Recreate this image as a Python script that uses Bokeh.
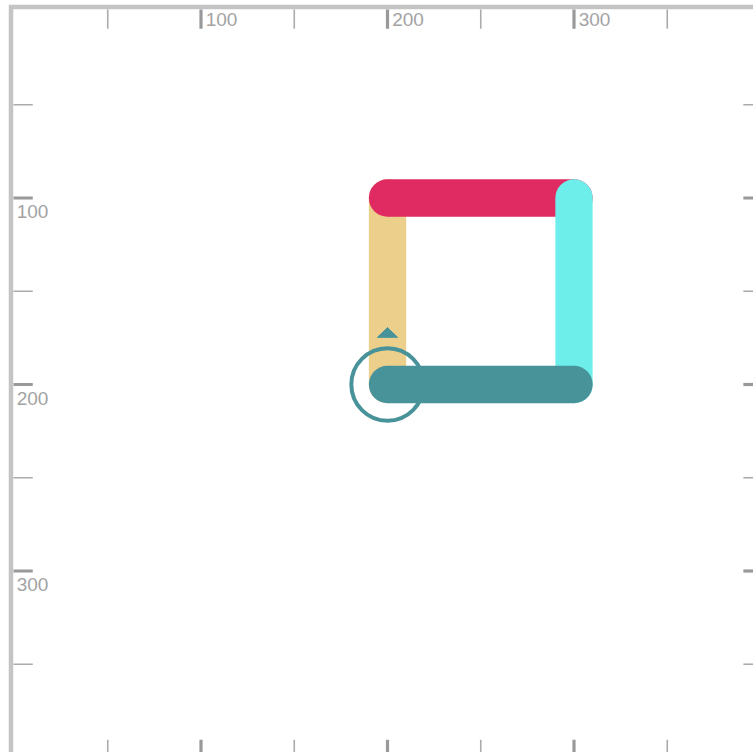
from bokeh.plotting import figure
from bokeh.models import Range1d, ColumnDataSource
from bokeh.core.properties import value
from bokeh.embed import file_html
from bokeh.resources import INLINE

# ---- data ----
# turtle path (canvas units, y grows downward)
path_x = [200, 200, 300, 300, 200]
path_y = [200, 100, 100, 200, 200]
path_colors = ["#EDCF8C", "#E02A62", "#6EEEEA", "#48939A"]

# turtle state
turtle_x = 200
turtle_y = 200
turtle_color = "#48939A"

# ruler ticks
major_ticks = [100, 200, 300]
minor_ticks = [50, 150, 250, 350]
tick_labels = ["100", "200", "300"]

SCALE = 1.865          # px per canvas unit
W, H = 745, 748
BL, BT = 5, 5           # gray border widths
fw, fh = W - BL, H - BT
x0 = -1.0 / SCALE
y0 = -2.0 / SCALE

p = figure(width=W, height=H, output_backend="svg", toolbar_location=None,
           x_range=Range1d(x0, x0 + fw / SCALE),
           y_range=Range1d(y0 + fh / SCALE, y0),
           min_border_left=BL, min_border_top=BT, min_border_right=0, min_border_bottom=0,
           margin=(4, 0, 0, 8))
p.axis.visible = False
p.grid.visible = False
p.outline_line_color = None
p.border_fill_color = "#C4C4C4"
p.background_fill_color = "white"

MAJ_C, MIN_C = "#999999", "#ABABAB"
TXT_C = "#A3A3A3"
FONT = value("Liberation Sans")
FS = "19px"

# rulers on all four sides
for ticks, lw, col in ((major_ticks, 3.2, MAJ_C), (minor_ticks, 1.6, MIN_C)):
    n = len(ticks)
    p.segment(x0=ticks, y0=[-1.5] * n, x1=ticks, y1=[9.2] * n, line_width=lw, line_color=col)
    p.segment(x0=ticks, y0=[390.5] * n, x1=ticks, y1=[402] * n, line_width=lw, line_color=col)
    p.segment(x0=[-1.5] * n, y0=ticks, x1=[9.8] * n, y1=ticks, line_width=lw, line_color=col)
    p.segment(x0=[390.8] * n, y0=ticks, x1=[402] * n, y1=ticks, line_width=lw, line_color=col)

p.text(x=[t + 2.5 for t in major_ticks], y=[0.6] * 3, text=tick_labels,
       text_font=FONT, text_font_size=FS, text_color=TXT_C,
       text_align="left", text_baseline="top")
p.text(x=[1.2] * 3, y=[t + 4.0 for t in major_ticks], text=tick_labels,
       text_font=FONT, text_font_size=FS, text_color=TXT_C,
       text_align="left", text_baseline="top")

# path
src = ColumnDataSource(dict(x0=path_x[:-1], y0=path_y[:-1], x1=path_x[1:], y1=path_y[1:],
                            color=path_colors))
p.segment(x0="x0", y0="y0", x1="x1", y1="y1", color="color", source=src,
          line_width=20 * SCALE, line_cap="round")

# turtle: circle + heading arrow (heading up)
p.circle(x=[turtle_x], y=[turtle_y], radius=19.4, fill_color=None,
         line_color=turtle_color, line_width=4)
p.patch(x=[turtle_x, turtle_x - 5.4, turtle_x + 5.4],
        y=[turtle_y - 30.5, turtle_y - 25.3, turtle_y - 25.3],
        fill_color=turtle_color, line_color=turtle_color, line_width=1)

open("out.html", "w").write(file_html(p, INLINE))
